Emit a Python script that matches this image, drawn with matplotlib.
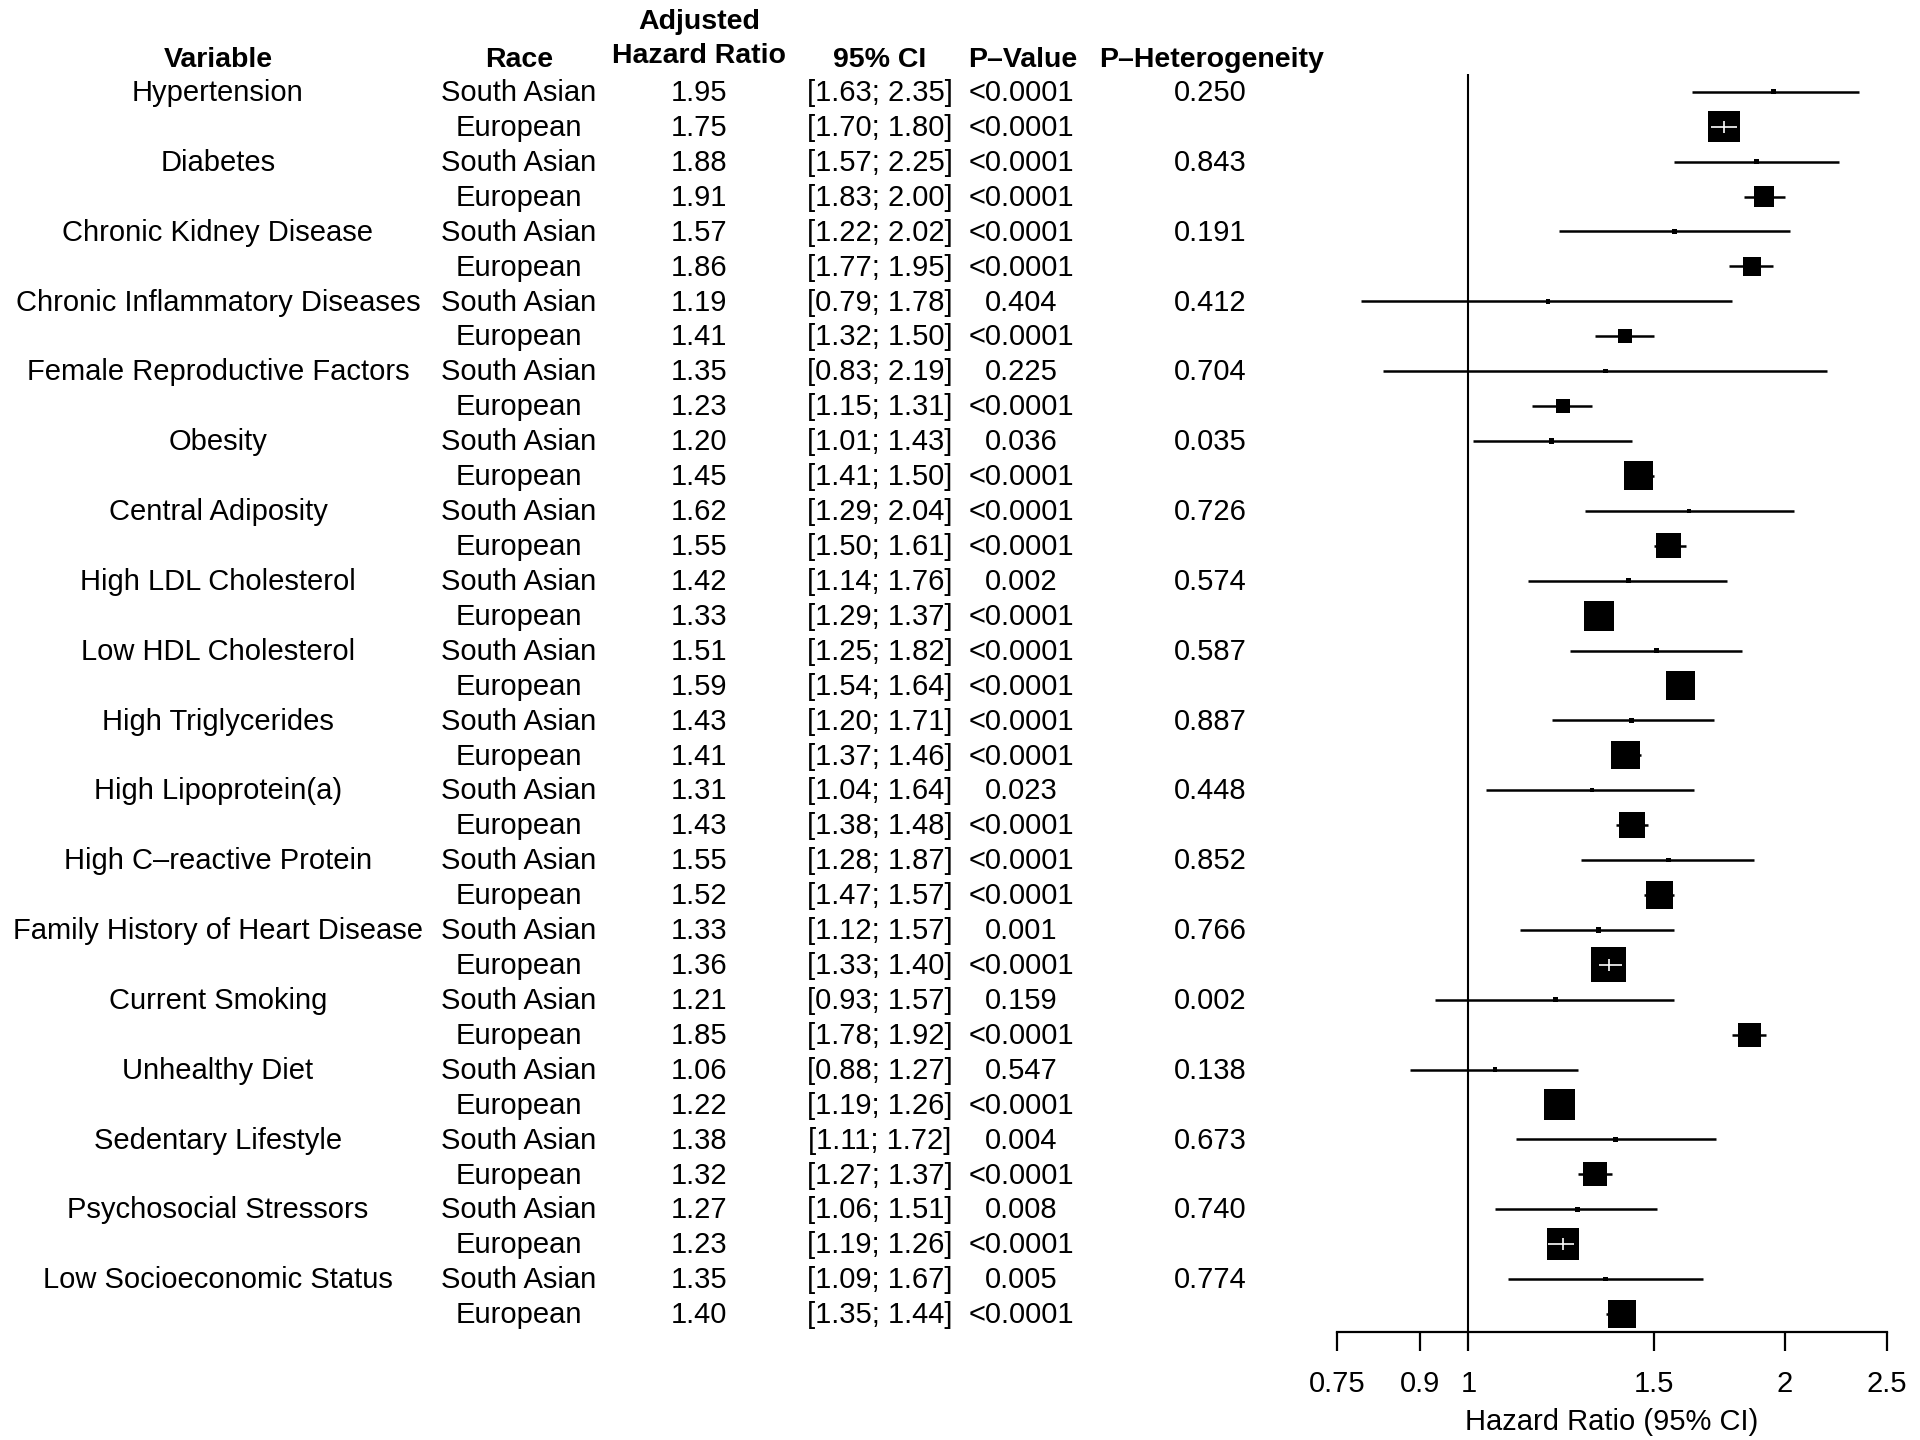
import numpy as np
import matplotlib
matplotlib.use('Agg')
import matplotlib.pyplot as plt
from matplotlib import transforms
from matplotlib.ticker import FixedLocator, FixedFormatter, NullLocator, NullFormatter

plt.rcParams['font.family'] = ['Liberation Sans', 'DejaVu Sans']

# ---------------- data ----------------
variables = ["Hypertension", "Diabetes", "Chronic Kidney Disease",
             "Chronic Inflammatory Diseases", "Female Reproductive Factors",
             "Obesity", "Central Adiposity", "High LDL Cholesterol",
             "Low HDL Cholesterol", "High Triglycerides", "High Lipoprotein(a)",
             "High C\u2013reactive Protein", "Family History of Heart Disease",
             "Current Smoking", "Unhealthy Diet", "Sedentary Lifestyle",
             "Psychosocial Stressors", "Low Socioeconomic Status"]
races = ["South Asian", "European"]

hr_sa = [1.95, 1.88, 1.57, 1.19, 1.35, 1.20, 1.62, 1.42, 1.51, 1.43, 1.31, 1.55, 1.33, 1.21, 1.06, 1.38, 1.27, 1.35]
lo_sa = [1.63, 1.57, 1.22, 0.79, 0.83, 1.01, 1.29, 1.14, 1.25, 1.20, 1.04, 1.28, 1.12, 0.93, 0.88, 1.11, 1.06, 1.09]
hi_sa = [2.35, 2.25, 2.02, 1.78, 2.19, 1.43, 2.04, 1.76, 1.82, 1.71, 1.64, 1.87, 1.57, 1.57, 1.27, 1.72, 1.51, 1.67]
p_sa = ["<0.0001", "<0.0001", "<0.0001", "0.404", "0.225", "0.036", "<0.0001", "0.002", "<0.0001",
        "<0.0001", "0.023", "<0.0001", "0.001", "0.159", "0.547", "0.004", "0.008", "0.005"]

hr_eu = [1.75, 1.91, 1.86, 1.41, 1.23, 1.45, 1.55, 1.33, 1.59, 1.41, 1.43, 1.52, 1.36, 1.85, 1.22, 1.32, 1.23, 1.40]
lo_eu = [1.70, 1.83, 1.77, 1.32, 1.15, 1.41, 1.50, 1.29, 1.54, 1.37, 1.38, 1.47, 1.33, 1.78, 1.19, 1.27, 1.19, 1.35]
hi_eu = [1.80, 2.00, 1.95, 1.50, 1.31, 1.50, 1.61, 1.37, 1.64, 1.46, 1.48, 1.57, 1.40, 1.92, 1.26, 1.37, 1.26, 1.44]
p_eu = ["<0.0001"] * 18

p_het = ["0.250", "0.843", "0.191", "0.412", "0.704", "0.035", "0.726", "0.574", "0.587",
         "0.887", "0.448", "0.852", "0.766", "0.002", "0.138", "0.673", "0.740", "0.774"]

# rows whose CI is drawn in white inside the box
white_inside = ["Hypertension", "Family History of Heart Disease", "Psychosocial Stressors"]

x_ticks = [0.75, 0.9, 1, 1.5, 2, 2.5]
x_tick_labels = ["0.75", "0.9", "1", "1.5", "2", "2.5"]
header = ["Variable", "Race", "Hazard Ratio", "95% CI", "P\u2013Value", "P\u2013Heterogeneity"]

# ---------------- build rows ----------------
hr, lo, hi, pv, race_col, var_col, het_col, white = [], [], [], [], [], [], [], []
for j, v in enumerate(variables):
    hr += [hr_sa[j], hr_eu[j]]
    lo += [lo_sa[j], lo_eu[j]]
    hi += [hi_sa[j], hi_eu[j]]
    pv += [p_sa[j], p_eu[j]]
    race_col += races
    var_col += [v, ""]
    het_col += [p_het[j], ""]
    white += [False, v in white_inside]
hr = np.array(hr); lo = np.array(lo); hi = np.array(hi)
white = np.array(white)
rows = np.arange(len(hr))

# ---------------- figure ----------------
W, H = 1920, 1440
fig = plt.figure(figsize=(W / 100, H / 100), dpi=100)

y0_px, dy_px = 91.8, 34.92
y_bottom_row, y_top_row = 35.52, -2.0
y_bot_px = y0_px + dy_px * y_bottom_row
y_top_px = y0_px + dy_px * y_top_row
x_left_px, x_right_px = 1337, 1887
ax = fig.add_axes([x_left_px / W, 1 - y_bot_px / H, (x_right_px - x_left_px) / W,
                   (y_bot_px - y_top_px) / H])
ax.set_xscale('log')
ax.set_xlim(0.75, 2.5)
ax.set_ylim(y_bottom_row, y_top_row)

for s in ['top', 'right', 'left']:
    ax.spines[s].set_visible(False)
ax.spines['bottom'].set_linewidth(1.6)
ax.yaxis.set_visible(False)
ax.xaxis.set_major_locator(FixedLocator(x_ticks))
ax.xaxis.set_major_formatter(FixedFormatter(x_tick_labels))
ax.xaxis.set_minor_locator(NullLocator())
ax.xaxis.set_minor_formatter(NullFormatter())
ax.tick_params(axis='x', direction='out', length=13.5, width=1.6, labelsize=21, pad=14)
ax.set_xlabel("Hazard Ratio (95% CI)", fontsize=21, labelpad=7)

# reference line
ax.vlines(1, -0.52, y_bottom_row, color='black', lw=1.5, zorder=1)

# CI lines
ax.hlines(rows, lo, hi, color='black', lw=1.8, zorder=2)

# boxes sized by inverse CI width (sqrt of weight)
k_px = 1.8
side_px = np.maximum(k_px / np.log(hi / lo), 4.5)
sizes = (side_px * 0.72) ** 2
ax.scatter(hr, rows, s=sizes, marker='s', color='black', linewidths=0, zorder=3)

# white CI inside boxes
wr = rows[white]
ax.hlines(wr, lo[white], hi[white], color='white', lw=1.2, zorder=4)
ax.vlines(hr[white], wr - 0.17, wr + 0.17, color='white', lw=1.2, zorder=4)

# ---------------- text columns ----------------
tr = transforms.blended_transform_factory(fig.transFigure, ax.transData)
col_x = [218, 519, 699, 880, 1021, 1210]
fs = 21
hfs = 20.5
dy_text = -0.05

def tx(xpx, y, s, **kw):
    ax.text(xpx / W, y, s, transform=tr, ha='center', va='center_baseline',
            fontsize=kw.pop('fontsize', fs), clip_on=False, **kw)

# headers
tx(col_x[0], -1.0, header[0], fontsize=hfs, fontweight='bold')
tx(col_x[1], -1.0, header[1], fontsize=hfs, fontweight='bold')
tx(col_x[2], -2.08, "Adjusted", fontsize=hfs, fontweight='bold')
tx(col_x[2], -1.10, header[2], fontsize=hfs, fontweight='bold')
tx(col_x[3], -1.0, header[3], fontsize=hfs, fontweight='bold')
tx(col_x[4] + 2, -1.0, header[4], fontsize=hfs, fontweight='bold')
tx(col_x[5] + 2, -1.0, header[5], fontsize=hfs, fontweight='bold')

for r in rows:
    y = r + dy_text
    if var_col[r]:
        tx(col_x[0], y, var_col[r])
    tx(col_x[1], y, race_col[r])
    tx(col_x[2], y, f"{hr[r]:.2f}")
    tx(col_x[3], y, f"[{lo[r]:.2f}; {hi[r]:.2f}]")
    tx(col_x[4], y, pv[r])
    if het_col[r]:
        tx(col_x[5], y, het_col[r])

fig.savefig("out.png", dpi=100)
